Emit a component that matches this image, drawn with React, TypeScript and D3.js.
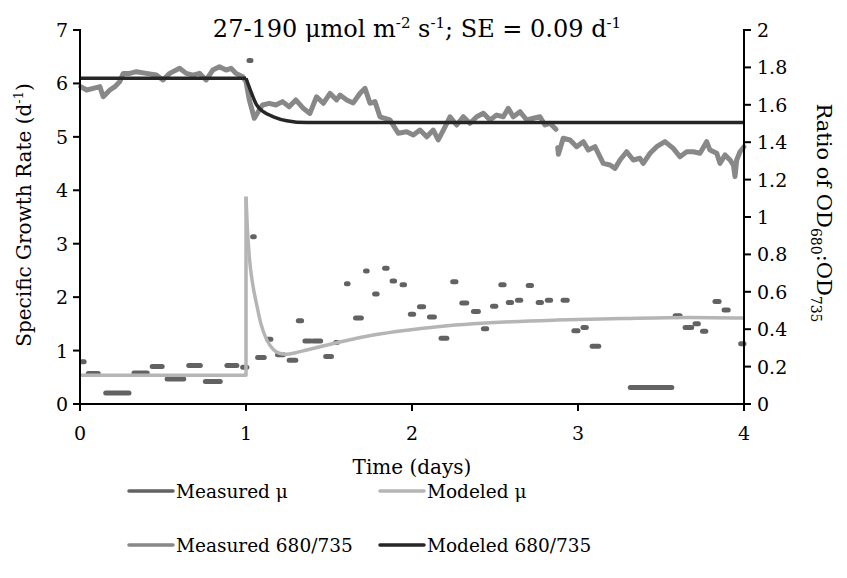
import React from "react";
import * as d3 from "d3";

// ---------- DATA ----------
const xTicks = [0, 1, 2, 3, 4];
const leftTicks = [0, 1, 2, 3, 4, 5, 6, 7];
const rightTicks = [0, 0.2, 0.4, 0.6, 0.8, 1, 1.2, 1.4, 1.6, 1.8, 2];

// Measured growth rate: [start day, end day, mu]
const measuredMu: [number, number, number][] = [
  [0.01, 0.025, 0.79], [0.05, 0.11, 0.57], [0.155, 0.295, 0.205], [0.325, 0.405, 0.58],
  [0.435, 0.495, 0.7], [0.525, 0.625, 0.47], [0.655, 0.725, 0.72], [0.755, 0.845, 0.42],
  [0.885, 0.945, 0.72], [0.98, 1.005, 0.69], [1.018, 1.03, 6.43], [1.04, 1.05, 3.13],
  [1.07, 1.11, 0.87], [1.13, 1.15, 1.21], [1.19, 1.225, 0.92], [1.26, 1.3, 0.82],
  [1.315, 1.335, 1.56], [1.355, 1.39, 1.18], [1.405, 1.45, 1.18], [1.48, 1.515, 0.89],
  [1.54, 1.55, 1.15], [1.605, 1.615, 2.25], [1.66, 1.695, 1.61], [1.72, 1.73, 2.49],
  [1.775, 1.79, 2.06], [1.835, 1.85, 2.54], [1.88, 1.895, 2.3], [1.94, 1.955, 2.23],
  [1.99, 2.01, 1.68], [2.045, 2.07, 1.82], [2.105, 2.135, 1.63], [2.175, 2.21, 1.23],
  [2.245, 2.265, 2.29], [2.3, 2.33, 1.89], [2.37, 2.4, 1.73], [2.43, 2.45, 1.41],
  [2.485, 2.505, 1.83], [2.535, 2.555, 2.23], [2.58, 2.6, 1.9], [2.635, 2.655, 1.94],
  [2.7, 2.72, 2.22], [2.76, 2.78, 1.9], [2.815, 2.835, 1.94], [2.91, 2.935, 1.94],
  [2.975, 3.0, 1.37], [3.03, 3.05, 1.43], [3.085, 3.125, 1.08], [3.315, 3.565, 0.31],
  [3.585, 3.615, 1.65], [3.645, 3.685, 1.43], [3.705, 3.725, 1.5], [3.75, 3.77, 1.36],
  [3.825, 3.85, 1.92], [3.88, 3.905, 1.76], [3.98, 4.0, 1.13],
];

// Modeled growth rate
const modelMuDaysA = [0, 1, 1];
const modelMuValsA = [0.54, 0.54, 3.88];
const modelMuDaysB = [1, 1.008, 1.02, 1.04, 1.065, 1.09, 1.125, 1.165, 1.2, 1.245, 1.3, 1.366, 1.47, 1.566, 1.767, 1.968, 2.169, 2.369, 2.6, 2.87, 3.27, 3.67, 4.0];
const modelMuValsB = [3.88, 3.3, 2.75, 2.25, 1.85, 1.5, 1.2, 1.02, 0.95, 0.93, 0.96, 1.01, 1.09, 1.16, 1.29, 1.38, 1.45, 1.5, 1.54, 1.57, 1.6, 1.62, 1.61];

// Measured OD680:OD735 (two pieces)
const ratioDays1 = [0.004, 0.04, 0.08, 0.12, 0.14, 0.18, 0.21, 0.24, 0.26, 0.3, 0.34, 0.4, 0.46, 0.5, 0.54, 0.6, 0.64, 0.68, 0.72, 0.76, 0.8, 0.84, 0.88, 0.91, 0.94, 0.98, 1.0, 1.02, 1.05, 1.08, 1.1, 1.14, 1.18, 1.22, 1.26, 1.3, 1.345, 1.385, 1.425, 1.466, 1.506, 1.546, 1.566, 1.607, 1.646, 1.687, 1.717, 1.747, 1.777, 1.807, 1.867, 1.917, 1.968, 2.008, 2.048, 2.089, 2.128, 2.158, 2.189, 2.229, 2.269, 2.309, 2.349, 2.39, 2.43, 2.47, 2.51, 2.55, 2.58, 2.61, 2.651, 2.691, 2.731, 2.771, 2.801, 2.831, 2.867];
const ratioVals1 = [1.697, 1.679, 1.688, 1.697, 1.643, 1.679, 1.697, 1.724, 1.768, 1.768, 1.777, 1.768, 1.759, 1.733, 1.768, 1.795, 1.768, 1.759, 1.768, 1.733, 1.786, 1.804, 1.786, 1.795, 1.768, 1.75, 1.724, 1.626, 1.528, 1.572, 1.599, 1.608, 1.599, 1.617, 1.59, 1.626, 1.581, 1.554, 1.643, 1.608, 1.661, 1.626, 1.652, 1.626, 1.61, 1.662, 1.688, 1.608, 1.617, 1.536, 1.519, 1.448, 1.456, 1.439, 1.465, 1.429, 1.465, 1.412, 1.465, 1.536, 1.492, 1.536, 1.501, 1.536, 1.555, 1.519, 1.545, 1.536, 1.581, 1.536, 1.563, 1.519, 1.528, 1.536, 1.492, 1.501, 1.469];
const ratioDays2 = [2.878, 2.882, 2.911, 2.952, 2.992, 3.032, 3.062, 3.102, 3.152, 3.193, 3.223, 3.253, 3.293, 3.333, 3.373, 3.393, 3.434, 3.474, 3.524, 3.574, 3.614, 3.655, 3.695, 3.735, 3.775, 3.795, 3.836, 3.855, 3.886, 3.916, 3.936, 3.946, 3.956, 3.976, 4.0];
const ratioVals2 = [1.37, 1.335, 1.421, 1.412, 1.376, 1.403, 1.358, 1.376, 1.287, 1.278, 1.26, 1.305, 1.349, 1.305, 1.314, 1.287, 1.341, 1.376, 1.403, 1.367, 1.322, 1.349, 1.349, 1.341, 1.403, 1.358, 1.341, 1.287, 1.332, 1.305, 1.278, 1.216, 1.305, 1.349, 1.376];

// Modeled OD680:OD735
const modelRatioDays = [0, 1, 1.034, 1.064, 1.104, 1.165, 1.245, 1.366, 4];
const modelRatioVals = [1.742, 1.742, 1.661, 1.599, 1.563, 1.536, 1.515, 1.505, 1.505];

const legendItems = [
  { label: "Measured μ", color: "#626262" },
  { label: "Modeled μ", color: "#b5b5b5" },
  { label: "Measured 680/735", color: "#888888" },
  { label: "Modeled 680/735", color: "#262626" },
];

// ---------- LAYOUT ----------
const W = 847, H = 578;
const FONT = "'DejaVu Serif', serif";

export default function App() {
  const x = d3.scaleLinear().domain([0, 4]).range([80, 744]);
  const yL = d3.scaleLinear().domain([0, 7]).range([404, 30]);
  const yR = d3.scaleLinear().domain([0, 2]).range([404, 30]);

  const lineL = d3.line<[number, number]>().x((d) => x(d[0])).y((d) => yL(d[1]));
  const lineLc = d3.line<[number, number]>().x((d) => x(d[0])).y((d) => yL(d[1])).curve(d3.curveMonotoneX);
  const lineR = d3.line<[number, number]>().x((d) => x(d[0])).y((d) => yR(d[1]));
  const lineRc = d3.line<[number, number]>().x((d) => x(d[0])).y((d) => yR(d[1])).curve(d3.curveMonotoneX);

  const zip = (a: number[], b: number[]) => a.map((v, i) => [v, b[i]] as [number, number]);

  const colMu = legendItems[0].color;
  const colMuM = legendItems[1].color;
  const colR = legendItems[2].color;
  const colRM = legendItems[3].color;

  const modelRA = zip(modelRatioDays.slice(0, 2), modelRatioVals.slice(0, 2));
  const modelRB = zip(modelRatioDays.slice(1), modelRatioVals.slice(1));

  return (
    <svg width={W} height={H} style={{ position: "absolute", left: 0, top: 0, background: "#fff" }} fontFamily={FONT}>
      {/* title */}
      <text x={417} y={37} textAnchor="middle" fontSize={24}>
        27-190 μmol m<tspan dy={-9} fontSize={15}>-2</tspan>
        <tspan dy={9}> s</tspan><tspan dy={-9} fontSize={15}>-1</tspan>
        <tspan dy={9}>; SE = 0.09 d</tspan><tspan dy={-9} fontSize={15}>-1</tspan>
      </text>

      {/* measured mu */}
      {measuredMu.map((m, i) => (
        <line key={"mm" + i} x1={x(m[0])} x2={x(m[1])} y1={yL(m[2])} y2={yL(m[2])}
          stroke={colMu} strokeWidth={5} strokeLinecap="round" />
      ))}
      {/* modeled mu */}
      <path d={lineL(zip(modelMuDaysA, modelMuValsA)) || ""} fill="none" stroke={colMuM} strokeWidth={3.5} strokeLinejoin="round" />
      <path d={lineLc(zip(modelMuDaysB, modelMuValsB)) || ""} fill="none" stroke={colMuM} strokeWidth={3.5} />
      {/* measured ratio */}
      <path d={lineR(zip(ratioDays1, ratioVals1)) || ""} fill="none" stroke={colR} strokeWidth={5} strokeLinejoin="round" strokeLinecap="round" />
      <path d={lineR(zip(ratioDays2, ratioVals2)) || ""} fill="none" stroke={colR} strokeWidth={5} strokeLinejoin="round" strokeLinecap="round" />
      {/* modeled ratio */}
      <path d={lineR(modelRA) || ""} fill="none" stroke={colRM} strokeWidth={3.5} />
      <path d={lineRc(modelRB) || ""} fill="none" stroke={colRM} strokeWidth={3.5} />

      {/* axes */}
      <g stroke="#000" strokeWidth={2} fill="none">
        <line x1={x(0)} x2={x(0)} y1={yL(7) - 1} y2={yL(0) + 1} />
        <line x1={x(4)} x2={x(4)} y1={yR(2) - 1} y2={yR(0) + 1} />
        <line x1={x(0) - 7} x2={x(4)} y1={yL(0)} y2={yL(0)} />
        {leftTicks.map((t) => (
          <line key={"lt" + t} x1={x(0) - 7} x2={x(0)} y1={yL(t)} y2={yL(t)} />
        ))}
        {rightTicks.map((t) => (
          <line key={"rt" + t} x1={x(4)} x2={x(4) + 7} y1={yR(t)} y2={yR(t)} />
        ))}
        {xTicks.map((t) => (
          <line key={"xt" + t} x1={x(t)} x2={x(t)} y1={yL(0)} y2={yL(0) + 7} />
        ))}
      </g>
      <g fontSize={19} fill="#000">
        {leftTicks.map((t) => (
          <text key={"ll" + t} x={68} y={yL(t) + 7} textAnchor="end">{t}</text>
        ))}
        {rightTicks.map((t) => (
          <text key={"rl" + t} x={757} y={yR(t) + 7} textAnchor="start">{d3.format("")(+t.toFixed(1))}</text>
        ))}
        {xTicks.map((t) => (
          <text key={"xl" + t} x={x(t)} y={yL(0) + 36} textAnchor="middle">{t}</text>
        ))}
      </g>

      {/* axis titles */}
      <text x={412} y={474} textAnchor="middle" fontSize={20}>Time (days)</text>
      <text transform="translate(31,215) rotate(-90)" textAnchor="middle" fontSize={20}>
        Specific Growth Rate (d<tspan dy={-8} fontSize={13}>-1</tspan><tspan dy={8}>)</tspan>
      </text>
      <text transform="translate(817,213) rotate(90)" textAnchor="middle" fontSize={21}>
        Ratio of OD<tspan dy={6} fontSize={14}>680</tspan><tspan dy={-6}>:OD</tspan><tspan dy={6} fontSize={14}>735</tspan>
      </text>

      {/* legend */}
      {legendItems.map((it, i) => {
        const col = i % 2;
        const row = Math.floor(i / 2);
        const lx = col === 0 ? 129 : 380;
        const ly = row === 0 ? 491 : 545;
        return (
          <g key={"lg" + i}>
            <line x1={lx} x2={lx + 44} y1={ly} y2={ly} stroke={it.color} strokeWidth={3.5} strokeLinecap="round" />
            <text x={lx + 47} y={ly + 7} fontSize={18.5}>{it.label}</text>
          </g>
        );
      })}
    </svg>
  );
}
